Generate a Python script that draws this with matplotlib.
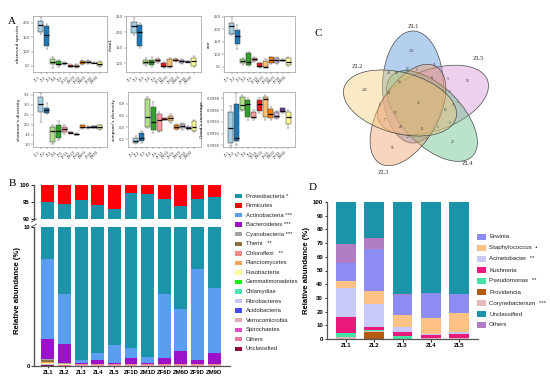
import matplotlib
matplotlib.use("Agg")
import matplotlib.pyplot as plt
from matplotlib.patches import Ellipse, Rectangle
import numpy as np

W, H = 550, 389

def rect(x0, y0, x1, y1):
    return [x0 / W, 1 - y1 / H, (x1 - x0) / W, (y1 - y0) / H]

# ---------------- Panel A data ----------------
groups = ["ZL1", "ZL2", "ZL3", "ZL4", "ZL5", "ZF1D", "ZM1D", "ZF6D", "ZM6D", "ZF9D", "ZM9D"]
group_colors = ["#a6cee3", "#1f78b4", "#b2df8a", "#33a02c", "#fb9a99", "#e31a1c",
                "#fdbf6f", "#ff7f00", "#cab2d6", "#6a3d9a", "#ffff99"]

obs_lo  = [160, 110, 42, 48, 55, 46, 44, 54, 56, 59, 45]
obs_q1  = [168, 118, 57, 52, 57, 48, 46, 57, 59, 60, 50]
obs_med = [193, 158, 65, 58, 60, 51, 50, 63, 63, 61, 58]
obs_q3  = [208, 190, 73, 66, 62, 54, 53, 69, 66, 62, 63]
obs_hi  = [222, 197, 80, 70, 64, 56, 56, 72, 70, 63, 66]

chao_lo  = [190, 150, 92, 88, 100, 86, 86, 103, 99, 103, 88]
chao_q1  = [197, 156, 98, 93, 103, 89, 89, 106, 101, 104, 92]
chao_med = [219, 202, 105, 104, 110, 91, 90, 112, 106, 105, 108]
chao_q3  = [232, 222, 111, 111, 114, 100, 114, 114, 110, 106, 117]
chao_hi  = [247, 228, 116, 120, 118, 103, 118, 117, 113, 107, 123]

ace_lo  = [177, 120, 58, 52, 70, 44, 44, 62, 62, 74, 52]
ace_q1  = [181, 141, 64, 57, 74, 48, 48, 66, 66, 75, 56]
ace_med = [214, 173, 73, 70, 80, 52, 50, 78, 76, 77, 70]
ace_q3  = [224, 197, 80, 106, 84, 64, 74, 88, 84, 79, 84]
ace_hi  = [248, 217, 85, 110, 88, 66, 80, 90, 88, 80, 88]

sha_lo  = [2.15, 2.55, 1.00, 1.20, 1.55, 1.57, 1.48, 1.80, 1.80, 1.83, 1.75]
sha_q1  = [2.66, 2.58, 1.11, 1.34, 1.62, 1.58, 1.50, 1.82, 1.82, 1.85, 1.77]
sha_med = [3.03, 2.74, 1.68, 1.70, 1.78, 1.60, 1.52, 1.90, 1.86, 1.90, 1.86]
sha_q3  = [3.41, 2.86, 1.90, 1.98, 1.90, 1.62, 1.54, 1.98, 1.90, 1.93, 1.98]
sha_hi  = [3.58, 3.08, 2.00, 2.20, 1.98, 1.63, 1.56, 2.00, 1.92, 1.95, 2.00]

sim_lo  = [0.12, 0.14, 0.38, 0.30, 0.32, 0.52, 0.48, 0.35, 0.36, 0.36, 0.32]
sim_q1  = [0.13, 0.16, 0.41, 0.36, 0.34, 0.53, 0.50, 0.37, 0.38, 0.37, 0.34]
sim_med = [0.17, 0.22, 0.57, 0.49, 0.53, 0.54, 0.55, 0.41, 0.42, 0.39, 0.41]
sim_q3  = [0.21, 0.30, 0.885, 0.75, 0.62, 0.55, 0.60, 0.44, 0.45, 0.41, 0.50]
sim_hi  = [0.25, 0.34, 0.91, 0.83, 0.66, 0.56, 0.62, 0.46, 0.47, 0.42, 0.52]

good_lo  = [0.99898, 0.99900, 0.99958, 0.99943, 0.99944, 0.99955, 0.99944, 0.99944, 0.99945, 0.99955, 0.99930]
good_q1  = [0.99903, 0.99907, 0.99960, 0.99949, 0.99946, 0.99958, 0.99949, 0.99946, 0.99947, 0.99956, 0.99936]
good_med = [0.99930, 0.99913, 0.99969, 0.99971, 0.99949, 0.99970, 0.99979, 0.99954, 0.99950, 0.99959, 0.99948]
good_q3  = [0.99957, 0.99971, 0.99983, 0.99977, 0.99957, 0.99977, 0.99983, 0.99962, 0.99957, 0.99963, 0.99957]
good_hi  = [0.99967, 0.99989, 0.99986, 0.99981, 0.99960, 0.99980, 0.99986, 0.99966, 0.99959, 0.99964, 0.99960]

# ---------------- Panel B data ----------------
samples_b = ["ZL1", "ZL2", "ZL3", "ZL4", "ZL5", "ZF1D", "ZM1D", "ZF6D", "ZM6D", "ZF9D", "ZM9D"]
phyla = ["Proteobacteria", "Firmicutes", "Actinobacteria", "Bacteroidetes", "Cyanobacteria",
         "Themi", "Chloroflexi", "Planctomycetes", "Fusobacteria", "Gemmatimonadetes",
         "Chlamydiae", "Fibrobacteres", "Acidobacteria", "Verrucomicrobia", "Spirochaetes",
         "Others", "Unclassified"]
phyla_sig = [" *", "", " ***", " ***", " ***", "   **", "   **", "", "", "", "", "", "", "", "", "", ""]
phyla_colors = ["#1b93a8", "#fb0007", "#5b9ef0", "#9c12c9", "#a3a3a3", "#8c7042",
                "#f28a8a", "#f5a455", "#fbfb9c", "#19f019", "#4fe3b5", "#c3c6f5",
                "#4b49f0", "#e0aab8", "#e04cc8", "#f07a9a", "#8c0a3c"]
firmicutes     = [5.0, 5.7, 4.3, 5.8, 7.0, 2.4, 2.7, 4.0, 6.1, 4.0, 3.5]
actinobacteria = [5.8, 3.6, 0.25, 0.48, 1.3, 0.7, 0.45, 4.6, 3.0, 6.6, 4.7]
bacteroidetes  = [1.4, 1.4, 0.05, 0.33, 0.08, 0.48, 0.08, 0.46, 0.97, 0.28, 0.8]
cyanobacteria  = [0.10, 0.03, 0.02, 0.01, 0.02, 0.01, 0.01, 0.01, 0.02, 0.01, 0.01]
themi          = [0.12, 0.02, 0.01, 0.01, 0.01, 0.01, 0.01, 0.01, 0.01, 0.01, 0.01]
chloroflexi    = [0.05, 0.02, 0.01, 0.01, 0.01, 0.01, 0.01, 0.01, 0.01, 0.01, 0.01]
planctomycetes = [0.05, 0.01, 0.01, 0.01, 0.01, 0.01, 0.01, 0.01, 0.01, 0.01, 0.01]
fusobacteria   = [0.08, 0.02, 0.01, 0.01, 0.01, 0.01, 0.01, 0.01, 0.01, 0.01, 0.01]
gemmatimonadetes = [0.01] * 11
chlamydiae     = [0.01] * 11
fibrobacteres  = [0.01] * 11
acidobacteria  = [0.01] * 11
verrucomicrobia = [0.01] * 11
spirochaetes   = [0.01] * 11
others_b       = [0.03, 0.02, 0.01, 0.01, 0.01, 0.01, 0.01, 0.01, 0.01, 0.01, 0.01]
unclassified_b = [0.04, 0.02, 0.01, 0.01, 0.01, 0.01, 0.01, 0.01, 0.01, 0.01, 0.01]

# ---------------- Panel C data ----------------
venn_sets = ["ZL1", "ZL5", "ZL4", "ZL3", "ZL2"]
venn_colors = ["#4f90d8", "#d58fd2", "#5fbb82", "#f39a66", "#f3cb73"]
venn_counts = ["292", "19", "22", "56", "246", "41", "10", "3", "35", "20", "19", "14",
               "11", "9", "5", "24", "5", "15", "7", "12", "3", "1", "3", "2", "20", "11", "27", "1"]

# ---------------- Panel D data ----------------
samples_d = ["ZL1", "ZL2", "ZL3", "ZL4", "ZL5"]
genera_stack = ["Providencia", "Corynebacterium", "Pseudomonas", "Kushneria", "Acinetobacter",
                "Staphylococcus", "Erwinia", "Others", "Unclassified"]
providencia     = [0.2, 5.4, 0.1, 0.1, 0.1]
corynebacterium = [1.0, 0.8, 0.2, 0.3, 0.6]
pseudomonas     = [2.9, 0.2, 1.9, 0.2, 0.2]
kushneria       = [12.2, 2.6, 3.2, 2.3, 2.8]
acinetobacter   = [21.0, 16.6, 3.6, 0.8, 1.1]
staphylococcus  = [5.1, 9.8, 8.6, 11.9, 14.0]
erwinia         = [13.0, 30.6, 14.8, 17.8, 14.2]
others_d        = [14.1, 8.0, 0.1, 0.1, 0.1]
legend_d = ["Erwinia", "Staphylococcus", "Acinetobacter", "Kushneria", "Pseudomonas",
            "Providencia", "Corynebacterium", "Unclassified", "Others"]
legend_d_sig = ["", "  \u2022", "  **", "", "  **", "", "  ***", "", ""]
genus_colors = {"Erwinia": "#8c8cf2", "Staphylococcus": "#ffc285", "Acinetobacter": "#c9c9f7",
                "Kushneria": "#ea1a7c", "Pseudomonas": "#45e3a6", "Providencia": "#b55a12",
                "Corynebacterium": "#e6b9bd", "Unclassified": "#1b93a8", "Others": "#b07cc4"}

# ====================================================================
fig = plt.figure(figsize=(5.5, 3.89), dpi=100)
serif = "Liberation Serif"
sans = "Liberation Sans"

# ---------------- Panel A ----------------
metrics = [
    ("observed species", obs_lo, obs_q1, obs_med, obs_q3, obs_hi, (29, 224), [50, 100, 150, 200], "{:.0f}"),
    ("chao1", chao_lo, chao_q1, chao_med, chao_q3, chao_hi, (72, 252), [100, 150, 200, 250], "{:.0f}"),
    ("ace", ace_lo, ace_q1, ace_med, ace_q3, ace_hi, (29, 253), [50, 100, 150, 200, 250], "{:.0f}"),
    ("shannon's diversity", sha_lo, sha_q1, sha_med, sha_q3, sha_hi, (0.87, 3.65), [1.0, 1.5, 2.0, 2.5, 3.0, 3.5], "{:.1f}"),
    ("simpson's diversity", sim_lo, sim_q1, sim_med, sim_q3, sim_hi, (0.065, 1.0), [0.2, 0.4, 0.6, 0.8], "{:.1f}"),
    ("Good's coverage", good_lo, good_q1, good_med, good_q3, good_hi, (0.99897, 0.99991), [0.9990, 0.9992, 0.9994, 0.9996, 0.9998], "{:.4f}"),
]
a_rects = [(33, 16, 107, 72), (126, 16, 201, 72), (224, 16, 295, 72),
           (33, 92, 107, 147), (128, 92, 201, 147), (223, 92, 295, 147)]
for (name, lo, q1, med, q3, hi, ylim, ticks, fmt), r in zip(metrics, a_rects):
    ax = fig.add_axes(rect(*r))
    stats = []
    for i in range(len(groups)):
        stats.append(dict(med=med[i], q1=q1[i], q3=q3[i], whislo=lo[i], whishi=hi[i], fliers=[]))
    pos = np.arange(1, len(groups) + 1)
    bp = ax.bxp(stats, positions=pos, widths=0.85, patch_artist=True, showfliers=False,
                boxprops=dict(linewidth=0.35, edgecolor="#333333"),
                medianprops=dict(color="black", linewidth=0.9),
                whiskerprops=dict(linewidth=0.3, color="#555555"),
                capprops=dict(linewidth=0.3, color="#555555"), manage_ticks=False)
    for patch, c in zip(bp["boxes"], group_colors):
        patch.set_facecolor(c)
    ax.set_xlim(-0.33, 12.2)
    ax.set_ylim(*ylim)
    ax.set_yticks(ticks)
    ax.set_yticklabels([fmt.format(t) for t in ticks], fontsize=2.6)
    ax.set_xticks(pos)
    ax.set_xticklabels(groups, rotation=45, ha="right", fontsize=2.4)
    ax.tick_params(length=1.2, width=0.3, pad=1, colors="#444444")
    for s in ax.spines.values():
        s.set_linewidth(0.5)
        s.set_color("#9a9a9a")
    ax.set_ylabel(name, fontsize=3.2, labelpad=2)
fig.text(12 / W, 1 - 22 / H, "A", fontsize=8, family=serif, va="center", ha="center")

# ---------------- Panel B ----------------
b_series = [unclassified_b, others_b, spirochaetes, verrucomicrobia, acidobacteria, fibrobacteres,
            chlamydiae, gemmatimonadetes, fusobacteria, planctomycetes, chloroflexi, themi,
            cyanobacteria, bacteroidetes, actinobacteria]
b_names = ["Unclassified", "Others", "Spirochaetes", "Verrucomicrobia", "Acidobacteria", "Fibrobacteres",
           "Chlamydiae", "Gemmatimonadetes", "Fusobacteria", "Planctomycetes", "Chloroflexi", "Themi",
           "Cyanobacteria", "Bacteroidetes", "Actinobacteria"]
lower_sum = np.sum(np.array(b_series), axis=0)
proteobacteria = 100 - np.array(firmicutes) - lower_sum
stack_vals = b_series + [list(proteobacteria), firmicutes]
stack_names = b_names + ["Proteobacteria", "Firmicutes"]
cmap_b = dict(zip(phyla, phyla_colors))

axb_top = fig.add_axes(rect(34, 185, 230, 219))
axb_bot = fig.add_axes(rect(34, 227, 230, 366))
xb = np.arange(len(samples_b))
for ax in (axb_top, axb_bot):
    bottom = np.zeros(len(samples_b))
    for vals, nm in zip(stack_vals, stack_names):
        ax.bar(xb, vals, bottom=bottom, width=0.78, color=cmap_b[nm], linewidth=0)
        bottom += np.array(vals)
    ax.set_xlim(-0.84, 10.96)
    for s in ("top", "right"):
        ax.spines[s].set_visible(False)
    ax.spines["left"].set_linewidth(1.0)
    ax.spines["left"].set_color("#555555")
    ax.tick_params(axis="y", length=2, width=0.6, labelsize=4.2, pad=1)
axb_top.set_ylim(90, 100)
axb_top.set_yticks([90, 95, 100])
axb_top.spines["bottom"].set_visible(False)
axb_top.set_xticks([])
axb_bot.set_ylim(0, 10)
axb_bot.set_yticks([0, 10])
axb_bot.spines["bottom"].set_linewidth(0.9)
axb_bot.spines["bottom"].set_color("#555555")
axb_bot.set_xticks(xb)
axb_bot.set_xticklabels(samples_b, fontsize=4.3, fontweight="bold", family=sans)
axb_bot.tick_params(axis="x", length=1.5, width=0.5, pad=1.5)
for lab in axb_top.get_yticklabels() + axb_bot.get_yticklabels():
    lab.set_fontweight("bold")
    lab.set_family(sans)
for yb in (220.5, 225.5):
    fig.add_artist(plt.Line2D([31.5 / W, 36.5 / W], [1 - (yb + 1.5) / H, 1 - (yb - 1.5) / H],
                              color="#555555", linewidth=0.6))
fig.text(18 / W, 1 - 290 / H, "Relative abundance (%)", rotation=90, fontsize=5.6,
         fontweight="bold", family=sans, va="center", ha="center")
fig.text(12 / W, 1 - 183 / H, "B", fontsize=8, family=serif, va="center", ha="center")
for i, (nm, sig) in enumerate(zip(phyla, phyla_sig)):
    yc = 196 + i * 9.55
    fig.add_artist(Rectangle((234.5 / W, 1 - (yc + 2.2) / H), 7.5 / W, 4.4 / H,
                             transform=fig.transFigure, color=cmap_b[nm], linewidth=0))
    fig.text(246 / W, 1 - yc / H, nm + sig, fontsize=4.2, family=sans, va="center", ha="left",
             color="#222222")

# ---------------- Panel C ----------------
axc = fig.add_axes(rect(330, 20, 500, 180))
axc.set_xlim(330, 500)
axc.set_ylim(H - 180, H - 20)
axc.axis("off")
venn_geom = [(413, 87, 112, 61, 90), (433, 100, 116, 61, 20), (432, 116, 114, 59, -45),
             (408, 115, 112, 59, 60), (400, 103, 116, 61, -15)]
for (cx, cy, L, Wd, ang), col in zip(venn_geom, venn_colors):
    axc.add_patch(Ellipse((cx, H - cy), L, Wd, angle=ang, facecolor=col, alpha=0.42,
                          edgecolor="none"))
    axc.add_patch(Ellipse((cx, H - cy), L, Wd, angle=ang, facecolor="none",
                          edgecolor="#4a4a4a", linewidth=0.5))
venn_label_xy = [(413, 26), (478, 58), (467, 163), (383, 172), (357, 67)]
for nm, (lx, ly) in zip(venn_sets, venn_label_xy):
    axc.text(lx, H - ly, nm, fontsize=4.8, family=serif, ha="center", va="center", color="#333333")
venn_count_xy = [(412, 51), (468, 81), (453, 142), (393, 148), (365, 90), (419, 103), (407, 69),
                 (417, 70), (435, 65), (389, 73), (397, 73), (400, 82), (432, 78), (448, 79),
                 (450, 92), (389, 93), (380, 105), (395, 113), (385, 120), (446, 110), (453, 105),
                 (458, 102), (450, 123), (438, 127), (401, 127), (422, 129), (409, 137), (427, 139)]
for t, (tx, ty) in zip(venn_counts, venn_count_xy):
    axc.text(tx, H - ty, t, fontsize=2.6, family=serif, ha="center", va="center", color="#333333")
fig.text(318 / W, 1 - 33 / H, "C", fontsize=8, family=serif, va="center", ha="center")

# ---------------- Panel D ----------------
axd = fig.add_axes(rect(327, 202, 478, 339))
xd = np.arange(len(samples_d))
d_series = [providencia, corynebacterium, pseudomonas, kushneria, acinetobacter,
            staphylococcus, erwinia, others_d]
bottom = np.zeros(len(samples_d))
for vals, nm in zip(d_series, genera_stack[:-1]):
    axd.bar(xd, vals, bottom=bottom, width=0.7, color=genus_colors[nm], linewidth=0)
    bottom += np.array(vals)
unclassified_d = 100 - bottom
axd.bar(xd, unclassified_d, bottom=bottom, width=0.7, color=genus_colors["Unclassified"], linewidth=0)
axd.set_xlim(-0.67, 4.67)
axd.set_ylim(0, 100)
axd.set_yticks(np.arange(0, 101, 10))
axd.set_xticks(xd)
axd.set_xticklabels(samples_d, fontsize=4.3, fontweight="bold", family=sans)
for lab in axd.get_yticklabels():
    lab.set_fontsize(4.3)
    lab.set_fontweight("bold")
    lab.set_family(sans)
for s in ("top", "right"):
    axd.spines[s].set_visible(False)
for s in ("left", "bottom"):
    axd.spines[s].set_linewidth(0.9)
    axd.spines[s].set_color("#555555")
axd.tick_params(length=1.8, width=0.6, pad=1)
axd.set_ylabel("Relative abundance (%)", fontsize=5.6, fontweight="bold", family=sans, labelpad=2)
fig.text(313 / W, 1 - 188 / H, "D", fontsize=8, family=serif, va="center", ha="center")
for i, (nm, sig) in enumerate(zip(legend_d, legend_d_sig)):
    yc = 237 + i * 11
    fig.add_artist(Rectangle((477 / W, 1 - (yc + 2.7) / H), 8.5 / W, 5.4 / H,
                             transform=fig.transFigure, color=genus_colors[nm], linewidth=0))
    fig.text(489 / W, 1 - yc / H, nm + sig, fontsize=4.4, family=sans, va="center", ha="left",
             color="#222222")

fig.savefig("out.png", dpi=100)
